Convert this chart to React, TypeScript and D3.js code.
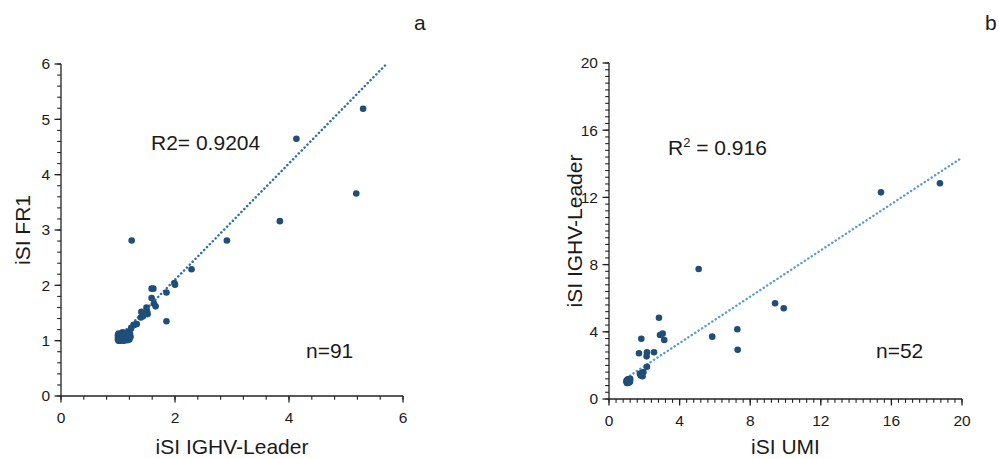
import React from "react";
import * as d3 from "d3";

// ---------- Panel a data: iSI IGHV-Leader (x) vs iSI FR1 (y), n=91 ----------
const leftOutliersX = [5.30, 4.13, 5.18, 3.84, 2.91, 1.24, 2.29, 2.00, 1.99, 1.85, 1.59, 1.62, 1.59, 1.63, 1.66, 1.85, 1.50, 1.51, 1.52, 1.41, 1.40, 1.44, 1.33, 1.30, 1.27, 1.23, 1.20];
const leftOutliersY = [5.19, 4.65, 3.66, 3.16, 2.81, 2.81, 2.29, 2.01, 2.04, 1.87, 1.94, 1.94, 1.77, 1.67, 1.62, 1.35, 1.60, 1.53, 1.48, 1.52, 1.42, 1.44, 1.30, 1.29, 1.28, 1.22, 1.16];
const leftClusterX = [1.00, 1.01, 1.02, 1.03, 1.04, 1.05, 1.06, 1.07, 1.08, 1.09, 1.10, 1.11, 1.12, 1.13, 1.14, 1.15, 1.16, 1.17, 1.18, 1.19, 1.20, 1.00, 1.01, 1.02, 1.03, 1.04, 1.05, 1.06, 1.07, 1.08, 1.09, 1.10, 1.11, 1.12, 1.13, 1.14, 1.15, 1.16, 1.17, 1.18, 1.19, 1.21, 1.22, 1.00, 1.02, 1.04, 1.06, 1.08, 1.10, 1.12, 1.14, 1.16, 1.18, 1.20, 1.01, 1.03, 1.05, 1.07, 1.09, 1.11, 1.13, 1.15, 1.17, 1.19];
const leftClusterY = [1.02, 1.05, 1.08, 1.01, 1.10, 1.03, 1.12, 1.06, 1.15, 1.02, 1.09, 1.04, 1.13, 1.07, 1.01, 1.11, 1.05, 1.14, 1.03, 1.08, 1.02, 1.10, 1.13, 1.00, 1.06, 1.03, 1.08, 1.01, 1.11, 1.04, 1.07, 1.00, 1.12, 1.05, 1.02, 1.09, 1.06, 1.02, 1.08, 1.11, 1.05, 1.12, 1.07, 1.06, 1.04, 1.07, 1.05, 1.09, 1.06, 1.10, 1.04, 1.09, 1.06, 1.10, 1.00, 1.03, 1.00, 1.02, 1.11, 1.01, 1.14, 1.03, 1.01, 1.13];
const leftFitX = [1.0, 5.71];
const leftFitY = [1.05, 6.0];
const leftXTicks = [0, 2, 4, 6];
const leftYTicks = [0, 1, 2, 3, 4, 5, 6];

// ---------- Panel b data: iSI UMI (x) vs iSI IGHV-Leader (y), n=52 ----------
const rightOutliersX = [18.75, 15.41, 5.08, 9.41, 9.90, 7.27, 7.29, 5.85, 2.83, 2.89, 3.04, 3.13, 1.83, 1.70, 2.15, 2.13, 2.55, 2.15, 1.95, 1.85, 1.80, 1.75, 1.90];
const rightOutliersY = [12.84, 12.30, 7.74, 5.70, 5.40, 4.15, 2.93, 3.71, 4.84, 3.81, 3.89, 3.51, 3.59, 2.72, 2.78, 2.54, 2.78, 1.92, 1.60, 1.55, 1.40, 1.50, 1.35];
const rightClusterX = [1.00, 1.02, 1.04, 1.06, 1.08, 1.10, 1.12, 1.14, 1.16, 1.18, 1.20, 1.01, 1.03, 1.05, 1.07, 1.09, 1.11, 1.13, 1.15, 1.17, 1.19, 1.00, 1.02, 1.04, 1.06, 1.08, 1.10, 1.12, 1.14];
const rightClusterY = [1.00, 1.05, 1.10, 0.98, 1.03, 1.08, 1.15, 1.02, 1.07, 1.12, 1.20, 1.12, 0.95, 1.02, 1.18, 1.06, 0.97, 1.09, 1.14, 1.01, 1.05, 1.08, 0.96, 1.04, 1.13, 1.00, 1.11, 1.03, 1.17];
const rightFitX = [1.0, 20.0];
const rightFitY = [1.26, 14.37];
const rightXTicks = [0, 4, 8, 12, 16, 20];
const rightYTicks = [0, 4, 8, 12, 16, 20];

const FONT = "'Liberation Sans', Arial, sans-serif";
const POINT = "#1f4e79";

type PanelProps = {
  xs: number[];
  ys: number[];
  fitX: number[];
  fitY: number[];
  xDomain: [number, number];
  yDomain: [number, number];
  xRange: [number, number];
  yRange: [number, number];
  xTicks: number[];
  yTicks: number[];
  xMinorStep: number;
  yMinorStep: number;
  xTitle: string;
  yTitle: string;
  yTitleX: number;
  fitColor: string;
};

function Panel(p: PanelProps) {
  const x = d3.scaleLinear().domain(p.xDomain).range(p.xRange);
  const y = d3.scaleLinear().domain(p.yDomain).range(p.yRange);
  const x0 = p.xRange[0];
  const y0 = p.yRange[0];
  const xMinor = d3.range(p.xDomain[0], p.xDomain[1] + 1e-9, p.xMinorStep);
  const yMinor = d3.range(p.yDomain[0], p.yDomain[1] + 1e-9, p.yMinorStep);
  const fit = d3
    .line<number>()
    .x((_, i) => x(p.fitX[i]))
    .y((_, i) => y(p.fitY[i]));
  const yMid = (p.yRange[0] + p.yRange[1]) / 2;
  return (
    <g>
      <path
        d={fit(p.fitX) || ""}
        fill="none"
        stroke={p.fitColor}
        strokeWidth={2.5}
        strokeLinecap="round"
        strokeDasharray="0.1 4"
      />
      {p.xs.map((v, i) => (
        <circle key={i} cx={x(v)} cy={y(p.ys[i])} r={3.3} fill={POINT} />
      ))}
      <line x1={x0} x2={x0} y1={y0} y2={p.yRange[1]} stroke="#222" strokeWidth={1.3} />
      <line x1={x0} x2={p.xRange[1]} y1={y0} y2={y0} stroke="#222" strokeWidth={1.3} />
      {yMinor.map((v, i) => (
        <line key={"ym" + i} x1={x0 - 3.8} x2={x0} y1={y(v)} y2={y(v)} stroke="#222" strokeWidth={1.1} />
      ))}
      {xMinor.map((v, i) => (
        <line key={"xm" + i} x1={x(v)} x2={x(v)} y1={y0} y2={y0 + 3.8} stroke="#222" strokeWidth={1.1} />
      ))}
      {p.yTicks.map((v) => (
        <g key={"yt" + v}>
          <line x1={x0 - 6.5} x2={x0} y1={y(v)} y2={y(v)} stroke="#222" strokeWidth={1.3} />
          <text x={x0 - 11} y={y(v) + 5.4} textAnchor="end" fontSize={15.5} fontFamily={FONT} fill="#1a1a1a">
            {v}
          </text>
        </g>
      ))}
      {p.xTicks.map((v) => (
        <g key={"xt" + v}>
          <line x1={x(v)} x2={x(v)} y1={y0} y2={y0 + 6.5} stroke="#222" strokeWidth={1.3} />
          <text x={x(v)} y={y0 + 26.5} textAnchor="middle" fontSize={15.5} fontFamily={FONT} fill="#1a1a1a">
            {v}
          </text>
        </g>
      ))}
      <text
        x={(p.xRange[0] + p.xRange[1]) / 2}
        y={454}
        textAnchor="middle"
        fontSize={21}
        fontFamily={FONT}
        fill="#1a1a1a"
      >
        {p.xTitle}
      </text>
      <text
        transform={`translate(${p.yTitleX},${yMid}) rotate(-90)`}
        textAnchor="middle"
        fontSize={21}
        fontFamily={FONT}
        fill="#1a1a1a"
      >
        {p.yTitle}
      </text>
    </g>
  );
}

export default function App() {
  const leftXs = [...leftOutliersX, ...leftClusterX];
  const leftYs = [...leftOutliersY, ...leftClusterY];
  const rightXs = [...rightOutliersX, ...rightClusterX];
  const rightYs = [...rightOutliersY, ...rightClusterY];
  return (
    <svg
      width={999}
      height={459}
      style={{ position: "absolute", left: 0, top: 0, background: "#fff" }}
    >
      <rect width={999} height={459} fill="#fff" />
      <Panel
        xs={leftXs}
        ys={leftYs}
        fitX={leftFitX}
        fitY={leftFitY}
        xDomain={[0, 6]}
        yDomain={[0, 6]}
        xRange={[61, 403]}
        yRange={[396, 64]}
        xTicks={leftXTicks}
        yTicks={leftYTicks}
        xMinorStep={0.4}
        yMinorStep={0.2}
        xTitle="iSI IGHV-Leader"
        yTitle="iSI FR1"
        yTitleX={30}
        fitColor="#2e6fae"
      />
      <Panel
        xs={rightXs}
        ys={rightYs}
        fitX={rightFitX}
        fitY={rightFitY}
        xDomain={[0, 20]}
        yDomain={[0, 20]}
        xRange={[609, 962]}
        yRange={[399, 63]}
        xTicks={rightXTicks}
        yTicks={rightYTicks}
        xMinorStep={0.4}
        yMinorStep={0.4}
        xTitle="iSI UMI"
        yTitle="iSI IGHV-Leader"
        yTitleX={582}
        fitColor="#5b9bd5"
      />
      <text x={151} y={149.5} fontSize={21} fontFamily={FONT} fill="#1a1a1a">
        R2= 0.9204
      </text>
      <text x={306} y={358} fontSize={21} fontFamily={FONT} fill="#1a1a1a">
        n=91
      </text>
      <text x={668} y={155} fontSize={21} fontFamily={FONT} fill="#1a1a1a">
        R<tspan dy={-8} fontSize={13}>2</tspan>
        <tspan dy={8}> = 0.916</tspan>
      </text>
      <text x={876} y={358} fontSize={21} fontFamily={FONT} fill="#1a1a1a">
        n=52
      </text>
      <text x={414} y={30} fontSize={21} fontFamily={FONT} fill="#1a1a1a">
        a
      </text>
      <text x={985} y={30} fontSize={21} fontFamily={FONT} fill="#1a1a1a">
        b
      </text>
    </svg>
  );
}
